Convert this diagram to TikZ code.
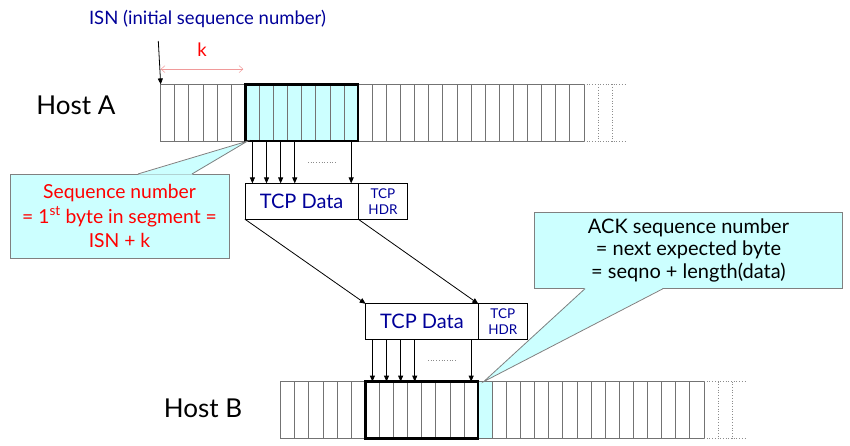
\documentclass[tikz,border=0pt]{standalone}
\usepackage{fontspec}
\setmainfont{Lato}
\usetikzlibrary{arrows.meta,positioning}
\definecolor{notecyan}{HTML}{CCFFFF}
\definecolor{navy}{HTML}{000099}
\definecolor{kpink}{HTML}{F09A9A}
\newcommand{\cw}{14.11}

\begin{document}
\begin{tikzpicture}[x=1pt,y=-1pt,
		cell/.style={draw=black!55,line width=0.9pt,minimum width=\cw pt,minimum height=56.8pt,inner sep=0pt,outer sep=0pt},
		seg/.style={draw=black,line width=2.4pt},
		ghost/.style={draw=black!45,dotted,line width=0.7pt},
		arr/.style={-{Triangle[length=6pt,width=5pt]},line width=0.8pt},
		datbox/.style={draw,line width=0.8pt,inner sep=0pt,outer sep=0pt,minimum height=35.8pt,text=navy},
		note/.style={fill=notecyan,draw=black!50,line width=0.8pt,align=center,font=\fontsize{19.3}{24.5}\selectfont},
		noteline/.style={draw=black!50,line width=0.8pt},
		host/.style={font=\fontsize{26}{30}\selectfont}]
		\useasboundingbox (0,0) rectangle (850,445);
		\begin{scope}
			% sender byte stream
			\foreach \i in {0,...,5} \node[cell] (a\i) at ({167.75+\cw*\i},112.8) {};
			\foreach \i in {6,...,13} \node[cell,fill=notecyan] (a\i) at ({167.75+\cw*\i},112.8) {};
			\foreach \i in {14,...,29} \node[cell] (a\i) at ({167.75+\cw*\i},112.8) {};
			\draw[ghost] (a29.north east) -- ++(42.7,0);
			\draw[ghost] (a29.south east) -- ++(42.7,0);
			\foreach \k in {1,2}
				\draw[ghost] ([xshift=\k*\cw pt]a29.north east) -- ([xshift=\k*\cw pt]a29.south east);
			\draw[seg] (a6.north west) rectangle (a13.south east);
			\node[host] (hostA) at (76,105) {Host A};
		
			% receiver byte stream
			\foreach \i in {0,...,13} \node[cell] (b\i) at ({287.75+\cw*\i},410) {};
			\node[cell,fill=notecyan] (b14) at ({287.75+\cw*14},410) {};
			\foreach \i in {15,...,29} \node[cell] (b\i) at ({287.75+\cw*\i},410) {};
			\draw[ghost] (b29.north east) -- ++(42.7,0);
			\draw[ghost] (b29.south east) -- ++(42.7,0);
			\foreach \k in {1,2}
				\draw[ghost] ([xshift=\k*\cw pt]b29.north east) -- ([xshift=\k*\cw pt]b29.south east);
			\draw[seg] (b6.north west) rectangle (b13.south east);
			\node[host] (hostB) at (203,408) {Host B};
		
			% ISN and offset k
			\node[font=\fontsize{18.5}{20}\selectfont,text=navy] (isn) at (207.5,19) {ISN (initial sequence number)};
			\coordinate (isnfoot) at (158.3,41);
			\draw[arr] (isnfoot) -- (a0.north west);
			\node[font=\fontsize{18.5}{20}\selectfont,text=red] (k) at (202,50) {k};
			\draw[{Straight Barb[length=4pt,width=7pt]}-{Straight Barb[length=4pt,width=7pt]},kpink,line width=0.5pt]
				([yshift=15.3pt]a0.north west) -- ([xshift=-2pt,yshift=15.3pt]a6.north west);
		
			% segments
			\node[datbox,minimum width=113.3pt,font=\fontsize{20}{24}\selectfont] (data1) at (301.6,201.3) {TCP Data};
			\node[datbox,minimum width=49.4pt,align=center,font=\fontsize{13.5}{16}\selectfont,right=0pt of data1] (hdr1) {TCP\\HDR};
			\node[datbox,minimum width=112.6pt,font=\fontsize{20}{24}\selectfont] (data2) at (422,321.7) {TCP Data};
			\node[datbox,minimum width=49pt,align=center,font=\fontsize{13.5}{16}\selectfont,right=0pt of data2] (hdr2) {TCP\\HDR};
		
			\foreach \c in {6,7,8,9,13}
				\draw[arr] (a\c.south) -- (a\c.south |- data1.north);
			\draw[ghost] (308,162.7) -- (336,162.7);
			\draw[arr] (data1.south west) -- (data2.north west);
			\draw[arr] (data1.south east) -- (data2.north east);
			\foreach \c in {6,7,8,9,13}
				\draw[arr] (b\c.north |- data2.south) -- (b\c.north);
			\draw[ghost] (428,360) -- (456,360);
		
			% callouts
			\node[note,text=red,minimum width=219pt,minimum height=83.7pt] (seqnote) at (119.5,216.2)
				{Sequence number\\= 1\textsuperscript{st} byte in segment =\\ISN + k};
			\coordinate (seqtip) at ([xshift=2pt]a6.south west);
			\fill[notecyan] ([xshift=18.5pt,yshift=-0.6pt]seqnote.north) -- (seqtip) -- ([xshift=72.5pt,yshift=-0.6pt]seqnote.north) -- cycle;
			\draw[noteline] ([xshift=18.5pt]seqnote.north) -- (seqtip) -- ([xshift=72.5pt]seqnote.north);
		
			\node[note,minimum width=308.4pt,minimum height=76pt,font=\fontsize{20}{22.5}\selectfont] (acknote) at (688.5,250.3)
				{ACK sequence number\\= next expected byte\\= seqno + length(data)};
			\coordinate (acktip) at ([xshift=5.5pt]b14.north west);
			\fill[notecyan] ([xshift=-103.5pt,yshift=0.6pt]acknote.south) -- (acktip) -- ([xshift=-25.5pt,yshift=0.6pt]acknote.south) -- cycle;
			\draw[noteline] ([xshift=-103.5pt]acknote.south) -- (acktip) -- ([xshift=-25.5pt]acknote.south);
		\end{scope}
	\end{tikzpicture}
\end{document}
